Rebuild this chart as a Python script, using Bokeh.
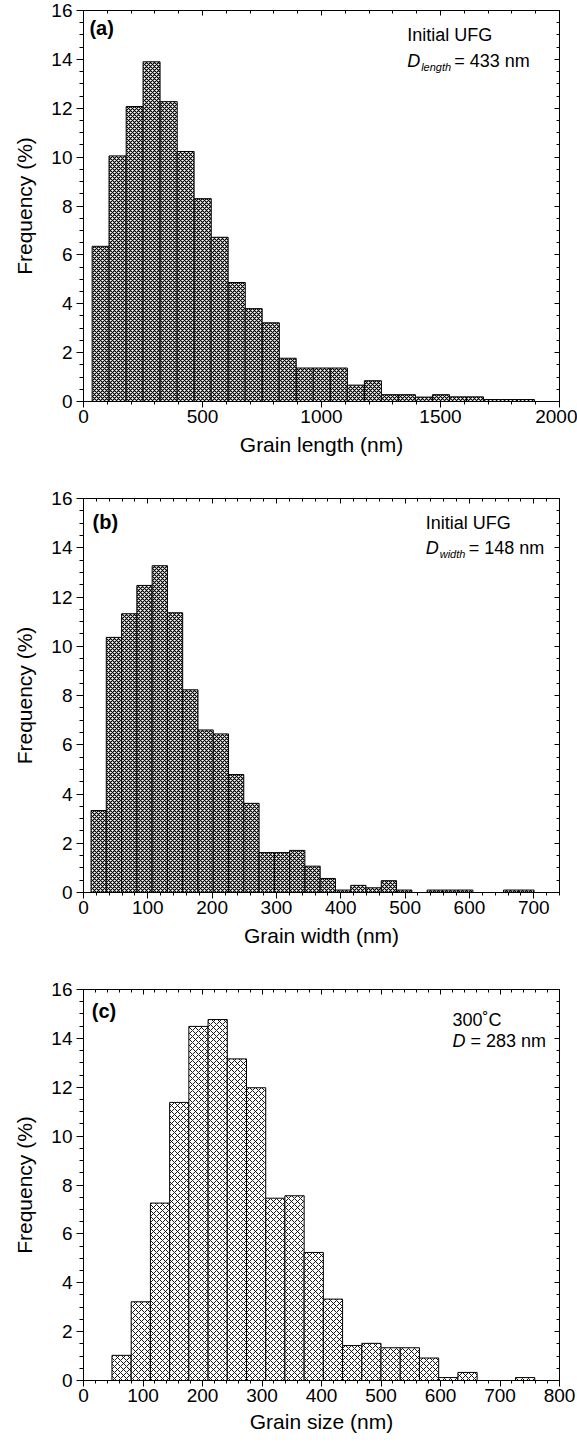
from bokeh.plotting import figure
from bokeh.layouts import column
from bokeh.models import (Range1d, LinearAxis, SingleIntervalTicker,
                          CustomJSTickFormatter, Label)
from bokeh.embed import file_html
from bokeh.resources import INLINE

FONT = "Liberation Sans"

# ---------------- data ----------------
# (a) grain length, initial UFG
length_bins = [72, 143, 215, 286, 358, 429, 501, 572, 644, 715, 787, 858, 930,
               1001, 1073, 1144, 1216, 1287, 1359, 1430, 1502, 1573, 1645, 1716,
               1788, 1859]
length_freq = [6.35, 10.05, 12.07, 13.9, 12.27, 10.23, 8.3, 6.72, 4.87, 3.8,
               3.22, 1.77, 1.37, 1.37, 1.37, 0.67, 0.85, 0.28, 0.28, 0.18, 0.28,
               0.19, 0.19, 0.08, 0.08, 0.08]

# (b) grain width, initial UFG
width_bins = [23.6, 47.3, 71.1, 94.8, 118.6, 142.3, 166.1, 189.8, 213.6, 237.3,
              261.1, 284.8, 308.6, 332.3, 356.1, 379.8, 403.6, 427.3, 451.1,
              474.8, 498.6, 522.3, 546.1, 569.8, 593.6, 617.3, 641.1, 664.8,
              688.6]
width_freq = [3.33, 10.36, 11.32, 12.47, 13.27, 11.36, 8.23, 6.6, 6.44, 4.79,
              3.62, 1.62, 1.62, 1.71, 1.07, 0.57, 0.1, 0.29, 0.19, 0.48, 0.1,
              0.0, 0.1, 0.1, 0.1, 0.0, 0.0, 0.1, 0.1]

# (c) grain size after 300 C
size_bins = [64.0, 96.3, 128.6, 160.9, 193.2, 225.5, 257.8, 290.1, 322.4, 354.7,
             387.0, 419.3, 451.6, 483.9, 516.2, 548.5, 580.8, 613.1, 645.4,
             677.7, 710.0, 742.3]
size_freq = [1.03, 3.22, 7.26, 11.38, 14.49, 14.77, 13.16, 11.98, 7.46, 7.56,
             5.24, 3.33, 1.43, 1.52, 1.34, 1.34, 0.92, 0.12, 0.33, 0.0, 0.0, 0.12]

panel_tags = ["(a)", "(b)", "(c)"]
x_titles = ["Grain length (nm)", "Grain width (nm)", "Grain size (nm)"]
y_title = "Frequency (%)"
cond_lines = ["Initial UFG", "Initial UFG", "300˚C"]
d_subs = ["length", "width", ""]
d_values = ["= 433 nm", "= 148 nm", "= 283 nm"]

EMPTY = CustomJSTickFormatter(code="return ''")


def style_axis(ax, font_size="19px"):
    ax.axis_line_color = "black"
    ax.axis_line_width = 1
    ax.major_tick_line_color = "black"
    ax.minor_tick_line_color = "black"
    ax.major_label_text_font = FONT
    ax.major_label_text_font_size = font_size
    ax.major_label_text_color = "black"
    ax.axis_label_text_font = FONT
    ax.axis_label_text_font_size = "21px"
    ax.axis_label_text_font_style = "normal"
    ax.axis_label_text_color = "black"


def make_panel(centers, freqs, bar_w, xmax, x_major, x_minor_n, idx,
               height, b_top, b_bottom, b_left, b_right,
               hatch_scale, hatch_weight, text_x, tag_x, y_tag, y_l1, y_l2,
               x_title_standoff):
    p = figure(width=577, height=height, x_range=Range1d(0, xmax),
               y_range=Range1d(0, 16), output_backend="svg",
               toolbar_location=None, min_border_left=b_left,
               min_border_right=b_right, min_border_top=b_top,
               min_border_bottom=b_bottom)
    p.grid.visible = False
    p.outline_line_color = "black"
    p.background_fill_color = "white"
    p.border_fill_color = "white"

    p.vbar(x=centers, top=freqs, bottom=0, width=bar_w,
           fill_color="white", line_color="black", line_width=1,
           hatch_pattern="x", hatch_color="black",
           hatch_scale=hatch_scale, hatch_weight=hatch_weight)

    xt = SingleIntervalTicker(interval=x_major, num_minor_ticks=x_minor_n)
    yt = SingleIntervalTicker(interval=2, num_minor_ticks=4)

    xa = p.xaxis[0]
    xa.ticker = xt
    xa.axis_label = x_titles[idx]
    style_axis(xa)
    xa.major_tick_out = 6
    xa.major_tick_in = 0
    xa.minor_tick_out = 3
    xa.minor_tick_in = 0
    xa.major_label_standoff = 2
    xa.axis_label_standoff = x_title_standoff

    ya = p.yaxis[0]
    ya.ticker = yt
    ya.axis_label = y_title
    style_axis(ya)
    ya.major_tick_out = 7
    ya.major_tick_in = 0
    ya.minor_tick_out = 4
    ya.minor_tick_in = 0
    ya.major_label_standoff = 4
    ya.axis_label_standoff = 12

    ra = LinearAxis(ticker=yt, formatter=EMPTY)
    style_axis(ra)
    ra.major_tick_out = 0
    ra.major_tick_in = 5
    ra.minor_tick_out = 0
    ra.minor_tick_in = 3
    ra.major_label_standoff = 0
    ra.major_label_text_font_size = "1px"
    p.add_layout(ra, "right")

    ta = LinearAxis(ticker=SingleIntervalTicker(interval=x_major,
                                                num_minor_ticks=x_minor_n),
                    formatter=EMPTY)
    style_axis(ta)
    ta.major_tick_out = 0
    ta.major_tick_in = 5
    ta.minor_tick_out = 0
    ta.minor_tick_in = 3
    ta.major_label_standoff = 0
    ta.major_label_text_font_size = "1px"
    p.add_layout(ta, "above")

    # panel tag
    p.add_layout(Label(x=tag_x, y=y_tag, text=panel_tags[idx],
                       text_font=FONT, text_font_size="20px",
                       text_font_style="bold", text_baseline="middle",
                       text_align="left", text_color="black"))
    # annotation
    p.add_layout(Label(x=text_x, y=y_l1, text=cond_lines[idx],
                       text_font=FONT, text_font_size="18px",
                       text_baseline="middle", text_align="left",
                       text_color="black"))
    p.add_layout(Label(x=text_x, y=y_l2, text="D", text_font=FONT,
                       text_font_size="18px", text_font_style="italic",
                       text_baseline="middle", text_align="left",
                       text_color="black"))
    off = 18
    if d_subs[idx]:
        p.add_layout(Label(x=text_x, y=y_l2, x_offset=14, y_offset=-6,
                           text=d_subs[idx], text_font=FONT,
                           text_font_size="11px", text_font_style="italic",
                           text_baseline="middle", text_align="left",
                           text_color="black"))
        off = 14 + (30 if d_subs[idx] == "length" else 26) + 3
    p.add_layout(Label(x=text_x, y=y_l2, x_offset=off, text=d_values[idx],
                       text_font=FONT, text_font_size="18px",
                       text_baseline="middle", text_align="left",
                       text_color="black"))
    return p


pa = make_panel(length_bins, length_freq, 71.5, 2000, 500, 5, 0,
                height=480, b_top=10, b_bottom=79, b_left=79, b_right=18,
                hatch_scale=4, hatch_weight=1.2, text_x=1360, tag_x=25,
                y_tag=15.3, y_l1=15.0, y_l2=13.95, x_title_standoff=7)
pb = make_panel(width_bins, width_freq, 23.75, 740, 100, 5, 1,
                height=490, b_top=18, b_bottom=78, b_left=79, b_right=14,
                hatch_scale=4, hatch_weight=1.2, text_x=532, tag_x=14,
                y_tag=15.05, y_l1=15.0, y_l2=13.98, x_title_standoff=7)
pc = make_panel(size_bins, size_freq, 32.3, 800, 100, 5, 2,
                height=475, b_top=19, b_bottom=65, b_left=83, b_right=14,
                hatch_scale=6, hatch_weight=0.9, text_x=620, tag_x=14,
                y_tag=15.1, y_l1=14.76, y_l2=13.88, x_title_standoff=5)

layout = column(pa, pb, pc, spacing=0)
open("out.html", "w").write(file_html(layout, INLINE))
